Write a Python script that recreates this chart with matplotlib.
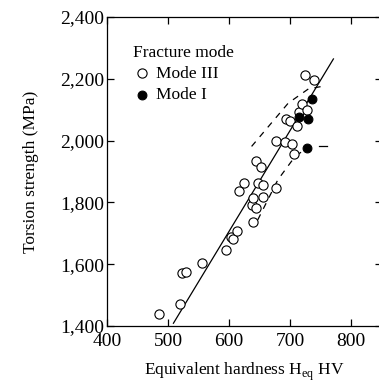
import matplotlib
matplotlib.use("Agg")
import matplotlib.pyplot as plt
import numpy as np
from matplotlib.ticker import FuncFormatter

plt.rcParams['font.family'] = ['Liberation Serif', 'DejaVu Serif']
plt.rcParams['mathtext.fontset'] = 'custom'
plt.rcParams['mathtext.rm'] = 'Liberation Serif'

# Mode III (open circles)
hv_mode3 = [485, 519, 523, 529, 556, 595, 603, 607, 613, 616, 625, 637, 639, 640,
            645, 647, 645, 652, 655, 656, 677, 677, 692, 703, 707, 694, 700, 712,
            715, 720, 728, 725, 740]
ts_mode3 = [1438, 1470, 1573, 1576, 1603, 1646, 1687, 1683, 1708, 1836, 1862, 1793,
            1735, 1815, 1783, 1863, 1934, 1913, 1856, 1817, 1845, 1998, 1996, 1990,
            1957, 2070, 2062, 2046, 2091, 2118, 2100, 2213, 2197]
# Mode I (filled circles)
hv_mode1 = [715, 730, 736, 728]
ts_mode1 = [2076, 2070, 2136, 1976]

# regression line endpoints
fit_hv = [509, 771]
fit_ts = [1409, 2264]

# scatter band (dashed)
upper_hv = [637, 667, 697, 730, 760]
upper_ts = [1981, 2051, 2121, 2167, 2178]
lower_hv = [647, 680, 708, 722]
lower_ts = [1743, 1873, 1948, 1968]
lower_tail_hv = [747, 760]
lower_tail_ts = [1981, 1981]

fig = plt.figure(figsize=(3.79, 3.84), dpi=100)
ax = fig.add_axes([0.282, 0.151, 0.725, 0.805])

ax.plot(fit_hv, fit_ts, color='black', lw=0.9)
ax.plot(upper_hv, upper_ts, color='black', lw=0.9, ls=(0, (5, 5)))
ax.plot(lower_hv, lower_ts, color='black', lw=0.9, ls=(0, (5, 5)))
ax.plot(lower_tail_hv, lower_tail_ts, color='black', lw=0.9)

ax.scatter(hv_mode3, ts_mode3, s=44, facecolors='white', edgecolors='black',
           linewidths=0.8, zorder=3, label='Mode III')
ax.scatter(hv_mode1, ts_mode1, s=40, facecolors='black', edgecolors='black',
           linewidths=0.8, zorder=4, label='Mode I')

ax.set_xlim(400, 850)
ax.set_ylim(1400, 2400)
ax.set_xticks([400, 500, 600, 700, 800])
ax.set_yticks([1400, 1600, 1800, 2000, 2200, 2400])
ax.yaxis.set_major_formatter(FuncFormatter(lambda v, p: f"{int(v):,}"))
ax.tick_params(direction='in', top=True, right=True, labelsize=14, length=5, width=0.9)
ax.tick_params(axis='y', pad=2)
ax.tick_params(axis='x', pad=5)
for s in ax.spines.values():
    s.set_linewidth(0.9)

ax.set_xlabel('Equivalent hardness H$_{\\rm eq}$ HV', fontsize=12.5, labelpad=8)
ax.set_ylabel('Torsion strength (MPa)', fontsize=12.5, labelpad=15)

leg = ax.legend(title='Fracture mode', loc='upper left', frameon=False, fontsize=12.5,
                title_fontsize=12.5, handletextpad=0.3, borderaxespad=1.2,
                labelspacing=0.3, alignment='left', handlelength=1.0,
                bbox_to_anchor=(-0.006, 1.0))

fig.savefig('out.png', dpi=100)
